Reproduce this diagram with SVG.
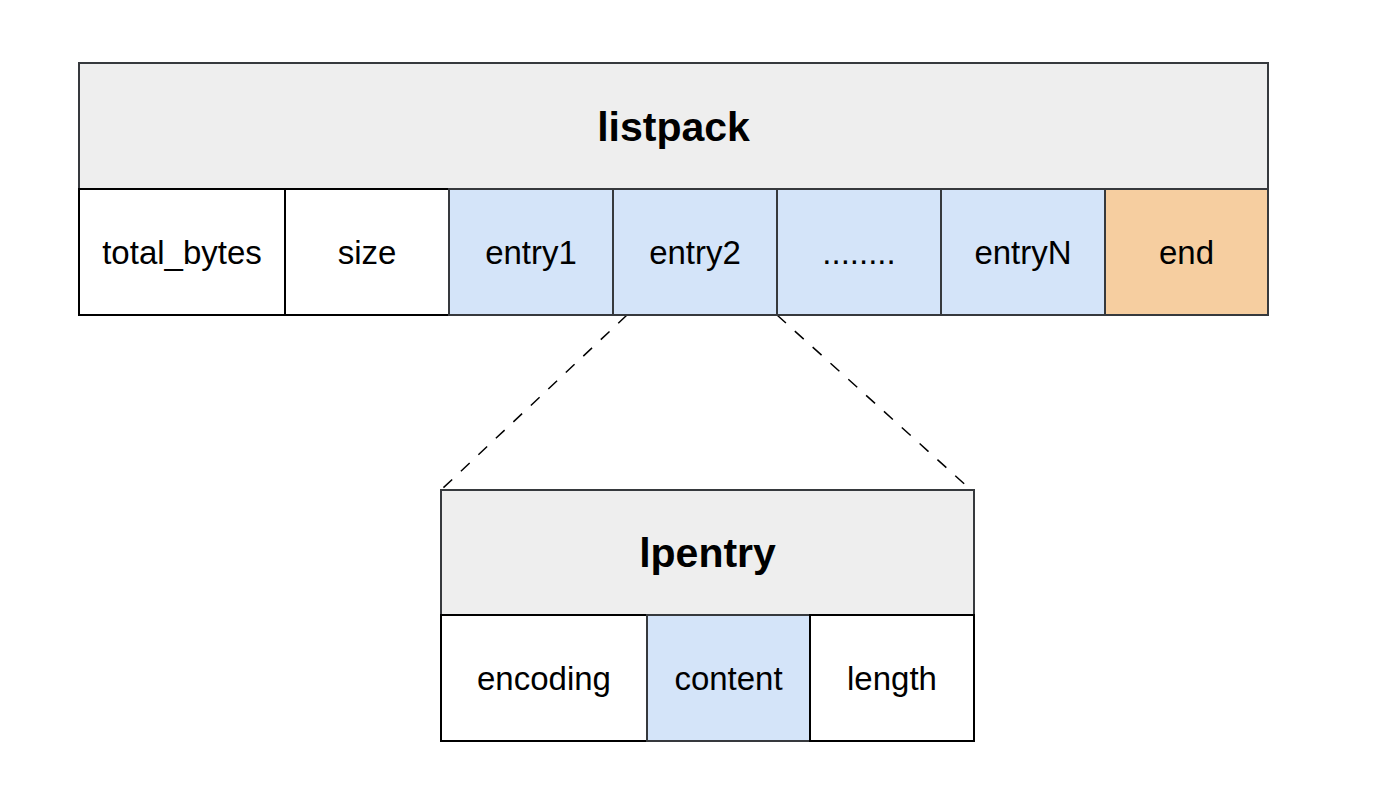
<svg xmlns="http://www.w3.org/2000/svg" width="1386" height="796" viewBox="0 0 1386 796">
<style>
.hdr{fill:#eeeeee;stroke:#36393d;stroke-width:2}
.w{fill:#ffffff;stroke:#000000;stroke-width:2}
.b{fill:#d4e4f9;stroke:#36393d;stroke-width:2}
.o{fill:#f6cea0;stroke:#36393d;stroke-width:2}
.t{font-family:"Liberation Sans",Arial,sans-serif;font-size:33px;fill:#000;text-anchor:middle;dominant-baseline:central}
.h{font-family:"Liberation Sans",Arial,sans-serif;font-size:41px;font-weight:bold;fill:#000;text-anchor:middle;dominant-baseline:central}
.d{fill:none;stroke:#000;stroke-width:1.5;stroke-dasharray:12 12}
</style>
<rect width="1386" height="796" fill="#ffffff"/>
<g id="connectors">
<line class="d" x1="627" y1="315" x2="442" y2="489"/>
<line class="d" x1="777" y1="315" x2="970" y2="489"/>
</g>
<g id="listpack">
<rect class="hdr" x="79" y="63" width="1189" height="126"/>
<text class="h" x="673.5" y="127">listpack</text>
</g>
<g id="total_bytes"><rect class="w" x="79" y="189" width="206" height="126"/><text class="t" x="182" y="252">total_bytes</text></g>
<g id="size"><rect class="w" x="285" y="189" width="164" height="126"/><text class="t" x="367" y="252">size</text></g>
<g id="entry1"><rect class="b" x="449" y="189" width="164" height="126"/><text class="t" x="531" y="252">entry1</text></g>
<g id="entry2"><rect class="b" x="613" y="189" width="164" height="126"/><text class="t" x="695" y="252">entry2</text></g>
<g id="dots"><rect class="b" x="777" y="189" width="164" height="126"/><text class="t" x="859" y="252">........</text></g>
<g id="entryN"><rect class="b" x="941" y="189" width="164" height="126"/><text class="t" x="1023" y="252">entryN</text></g>
<g id="end"><rect class="o" x="1105" y="189" width="163" height="126"/><text class="t" x="1186.5" y="252">end</text></g>
<g id="lpentry">
<rect class="hdr" x="441" y="490" width="533" height="125"/>
<text class="h" x="707.5" y="553">lpentry</text>
</g>
<g id="encoding"><rect class="w" x="441" y="615" width="206" height="126"/><text class="t" x="544" y="678">encoding</text></g>
<g id="content"><rect class="b" x="647" y="615" width="163" height="126"/><text class="t" x="728.5" y="678">content</text></g>
<g id="length"><rect class="w" x="810" y="615" width="164" height="126"/><text class="t" x="892" y="678">length</text></g>
</svg>
